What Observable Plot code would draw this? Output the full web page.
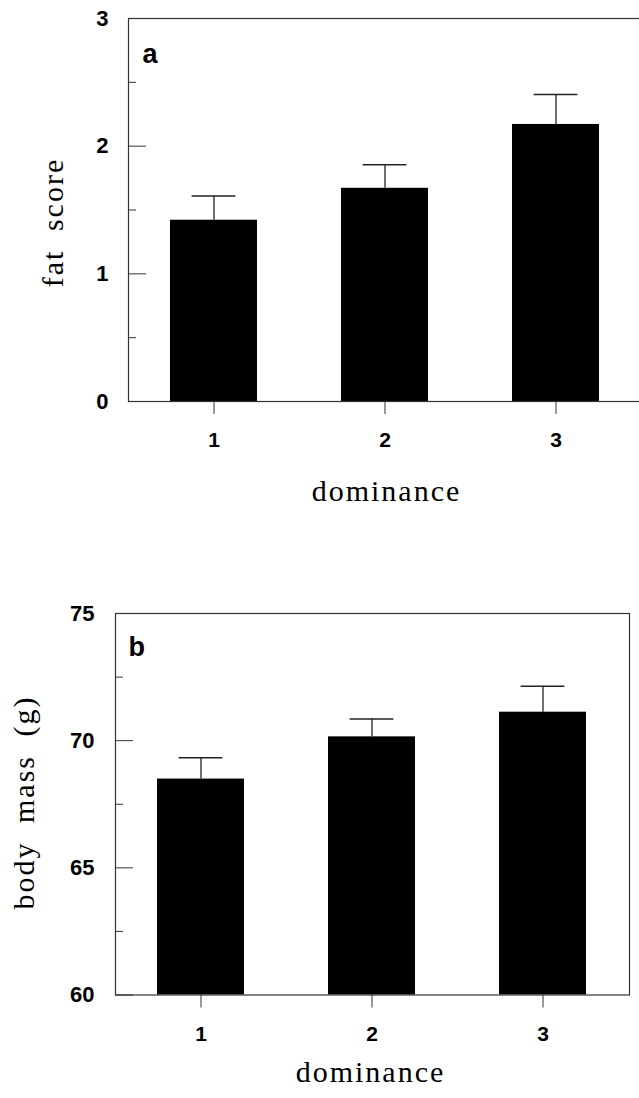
<!DOCTYPE html>
<html>
<head>
<meta charset="utf-8">
<script src="https://cdn.jsdelivr.net/npm/d3@7"></script>
<script src="https://cdn.jsdelivr.net/npm/@observablehq/plot@0.6"></script>
<style>
  html, body { margin: 0; padding: 0; background: #fff; overflow: hidden; }
  #wrap { width: 639px; height: 1098px; position: relative; overflow: hidden; }
  #wrap svg { display: block; }
</style>
</head>
<body>
<div id="wrap"></div>
<script>
// ---- data ----
const dominance = [1, 2, 3];
const fatScore = [1.42, 1.67, 2.17];
const fatSE = [0.19, 0.185, 0.235];
const bodyMass = [68.49, 70.15, 71.12];
const bodyMassSE = [0.84, 0.70, 1.02];
const fatTicks = [0, 1, 2, 3];
const fatMinorTicks = [0.5, 1.5, 2.5];
const massTicks = [60, 65, 70, 75];
const massMinorTicks = [62.5, 67.5, 72.5];
const xLabel = "dominance";
const fatLabel = "fat score";
const massLabel = "body mass (g)";

const fatRows = dominance.map((d, i) => ({d, v: fatScore[i], hi: fatScore[i] + fatSE[i]}));
const massRows = dominance.map((d, i) => ({d, v: bodyMass[i], hi: bodyMass[i] + bodyMassSE[i]}));

const sans = "'Liberation Sans', Arial, Helvetica, sans-serif";
const serif = "'Liberation Serif', 'Times New Roman', serif";
const ink = "#222";

function panel({rows, yDomain, base, ticks, minor, letter, yLabel, m, lab}) {
  const fw = 639 - m.left - m.right;
  const svg = Plot.plot({
    width: 639, height: m.height,
    marginLeft: m.left, marginRight: m.right, marginTop: m.top, marginBottom: m.bottom,
    style: {fontFamily: sans, background: "white", color: "#000", overflow: "hidden"},
    x: {type: "band", domain: dominance, paddingInner: 0.49, paddingOuter: 0.245, align: 0.5},
    y: {domain: yDomain},
    marks: [
      Plot.barY(rows, {x: "d", y1: base, y2: "v", fill: "#000"}),
      Plot.ruleX(rows, {x: "d", y1: "v", y2: "hi", stroke: ink, strokeWidth: 1.3}),
      Plot.tickY(rows, {x: "d", y: "hi", insetLeft: 21.6, insetRight: 21.6, stroke: ink, strokeWidth: 1.5}),
      Plot.frame({stroke: "#333", strokeWidth: 1.2}),
      Plot.tickY(ticks, {y: d => d, insetRight: fw - 18, stroke: "#333", strokeWidth: 1}),
      Plot.tickY(minor, {y: d => d, insetRight: fw - 8, stroke: "#333", strokeWidth: 1}),
      Plot.axisY({ticks, tickSize: 0, tickPadding: m.yPad, fontSize: 22, fontWeight: "bold", label: null, tickFormat: d => String(d)}),
      Plot.axisX({tickSize: 13, tickPadding: 18, fontSize: 21, fontWeight: "bold", stroke: "#333", label: null}),
      Plot.text([letter], {text: d => d, frameAnchor: "top-left", dx: lab.ldx, dy: lab.ldy, textAnchor: "start", lineAnchor: "bottom", fontSize: 27, fontWeight: "bold"}),
      Plot.text([yLabel], {text: d => d, frameAnchor: "top-left", dx: lab.ydx, dy: lab.ydy, rotate: -90, textAnchor: "middle", lineAnchor: "bottom", fontSize: 30, fontFamily: serif}),
      Plot.text([xLabel], {text: d => d, frameAnchor: "bottom", dx: lab.xdx, dy: lab.xdy, textAnchor: "middle", lineAnchor: "bottom", fontSize: 30, fontFamily: serif})
    ]
  });
  d3.select(svg).selectAll("text")
    .filter(function () { const t = this.textContent; return t === yLabel || t === xLabel; })
    .style("letter-spacing", "2px")
    .style("word-spacing", "9px");
  return svg;
}

const wrap = document.getElementById("wrap");
wrap.appendChild(panel({
  rows: fatRows, yDomain: [0, 3], base: 0, ticks: fatTicks, minor: fatMinorTicks,
  letter: "a", yLabel: fatLabel,
  m: {height: 560, left: 128, right: -2, top: 18, bottom: 159, yPad: 20},
  lab: {ldx: 14, ldy: 44, ydx: -66, ydy: 204, xdx: 1.5, xdy: 99}
}));
wrap.appendChild(panel({
  rows: massRows, yDomain: [60, 75], base: 60, ticks: massTicks, minor: massMinorTicks,
  letter: "b", yLabel: massLabel,
  m: {height: 538, left: 115, right: 10, top: 53, bottom: 103.5, yPad: 21},
  lab: {ldx: 13, ldy: 42, ydx: -82, ydy: 189, xdx: -2, xdy: 87}
}));
</script>
</body>
</html>
